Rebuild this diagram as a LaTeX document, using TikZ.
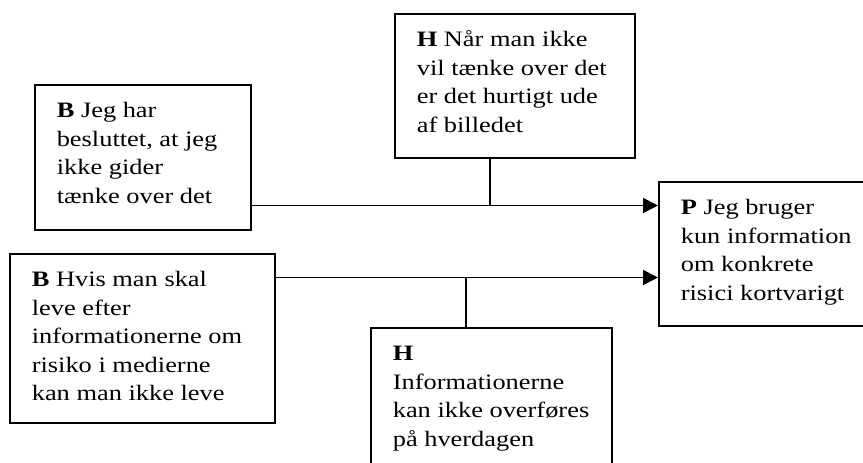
\documentclass[tikz,border=0pt]{standalone}
\usepackage{fontspec}
\setmainfont{Liberation Serif}[FakeStretch=1.2]
\usetikzlibrary{arrows.meta}
\newcommand{\boxtxt}[3]{\parbox[c][#1][t]{#2}{\fontsize{22}{28.5}\selectfont\raggedright\leftskip=22pt\relax\rule{0pt}{33pt}#3}}
\tikzset{
  bx/.style={draw, line width=1.6pt, inner sep=0pt, anchor=north west},
  conn/.style={line width=1.6pt},
  arr/.style={line width=1.6pt, -{Triangle[length=15pt,width=15pt]}}
}
\begin{document}
\begin{tikzpicture}[x=1pt,y=-1pt]
\useasboundingbox (0,0) rectangle (863,463);
\node[bx] (B1) at (34,84) {\boxtxt{145pt}{216pt}{\textbf{B} Jeg har\\besluttet, at jeg\\ikke gider\\tænke over det}};
\node[bx] (H1) at (394,13) {\boxtxt{144pt}{240pt}{\textbf{H} Når man ikke\\vil tænke over det\\er det hurtigt ude\\af billedet}};
\node[bx] (P) at (658,181) {\boxtxt{144pt}{215pt}{\textbf{P} Jeg bruger\\kun information\\om konkrete\\risici kortvarigt}};
\node[bx] (B2) at (9,253) {\boxtxt{169pt}{265pt}{\textbf{B} Hvis man skal\\leve efter\\informationerne om\\risiko i medierne\\kan man ikke leve}};
\node[bx] (H2) at (370,327) {\boxtxt{150pt}{241pt}{\textbf{H}\\Informationerne\\kan ikke overføres\\på hverdagen}};
\coordinate (j1) at (490,205.5);
\coordinate (j2) at (466,277.5);
\draw[arr] (B1.east |- j1) -- (P.west |- j1);
\draw[conn] (j1 |- H1.south) -- (j1);
\draw[arr] (B2.east |- j2) -- (P.west |- j2);
\draw[conn] (j2 |- H2.north) -- (j2);
\end{tikzpicture}
\end{document}
